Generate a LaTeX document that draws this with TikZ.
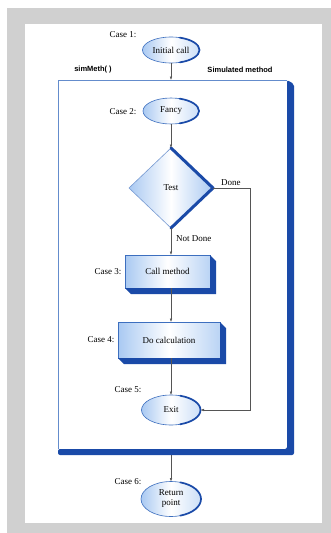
\documentclass[tikz,border=0pt]{standalone}
\usepackage{fontspec}
\setmainfont{Liberation Serif}
\newfontfamily\labsans{Liberation Sans}
\usetikzlibrary{shapes.geometric,arrows.meta}
\definecolor{dkblue}{HTML}{1A4AA8}
\definecolor{edgeblue}{HTML}{3D6FBF}
\definecolor{lblue}{HTML}{A9C9F2}
\definecolor{frgray}{HTML}{D0D0D0}
\definecolor{conngray}{HTML}{555555}
\newcommand\ellrim[3]{%
  \draw[dkblue,line width=1.7pt,line cap=round] (#1.east) arc[start angle=0,end angle=72,x radius=#2pt,y radius=#3pt];
  \draw[dkblue,line width=1.7pt,line cap=round] (#1.east) arc[start angle=0,end angle=-72,x radius=#2pt,y radius=#3pt];}
\newcommand\boxshadow[1]{%
  \fill[dkblue] (#1.north east) -- ([shift={(6,6)}]#1.north east) -- ([shift={(6,6)}]#1.south east)
    -- ([shift={(6,6)}]#1.south west) -- (#1.south west) -- (#1.south east) -- cycle;}
\begin{document}
\begin{tikzpicture}[x=1pt,y=-1pt,
  ell/.style={ellipse, draw=edgeblue, line width=0.6pt, outer sep=0pt, inner sep=1pt,
    left color=lblue, right color=lblue!60, middle color=white, font=\fontsize{9}{10}\selectfont},
  boxn/.style={rectangle, draw=edgeblue, line width=0.5pt, outer sep=0pt, inner sep=1pt,
    left color=lblue, right color=lblue!80, middle color=white, font=\fontsize{9}{10}\selectfont},
  lab/.style={font=\fontsize{9}{10}\selectfont, inner sep=0pt},
  hdr/.style={font=\labsans\bfseries\fontsize{7.5}{9}\selectfont, inner sep=0pt},
  conn/.style={draw=conngray, line width=0.5pt, -{Latex[length=3.5pt,width=2.6pt]}}
]
\useasboundingbox (0,0) rectangle (331,533);
\fill[frgray] (7,8) rectangle (331,533);
\fill[white] (25,24) rectangle (322,523);

% big method box
\fill[dkblue, rounded corners=2pt] (287,80) -- (294,84) -- (294,455) -- (58,455) -- (58,449) -- (287,449) -- cycle;
\draw[edgeblue!80, line width=0.6pt] (58,449) -- (58,80) -- (287,80);
\coordinate (boxtop) at (171,80);
\coordinate (boxbot) at (171,455);

% headers
\node[hdr] (sm) at (93,70) {simMeth( )};
\node[hdr] (simm) at (240,70) {Simulated method};

% nodes
\node[ell, minimum width=57pt, minimum height=26pt] (init) at (171,50) {Initial call};
\ellrim{init}{28.5}{13}
\node[ell, minimum width=56pt, minimum height=26pt] (fancy) at (171,111) {Fancy};
\ellrim{fancy}{28}{13}
\node[diamond, draw=edgeblue!70, line width=0.6pt, minimum width=84pt, minimum height=80pt,
  inner sep=0pt, outer sep=0pt, left color=lblue, right color=lblue, middle color=white,
  font=\fontsize{9}{10}\selectfont] (test) at (171,188) {Test};
\draw[dkblue, line width=3pt, line cap=round, line join=round] (test.north) -- (test.east) -- (test.south);
\node[boxn, minimum width=85pt, minimum height=33pt] (call) at (167.5,271.5) {Call method};
\boxshadow{call}
\node[boxn, minimum width=102pt, minimum height=36pt] (calc) at (169,340) {Do calculation};
\boxshadow{calc}
\node[ell, minimum width=59pt, minimum height=30pt] (exit) at (171,410) {Exit};
\ellrim{exit}{29.5}{15}
\node[ell, minimum width=60pt, minimum height=35pt, align=center] (ret) at (171,499) {Return\\point};
\ellrim{ret}{30}{17.5}

% case labels
\node[lab] (c1) at (123,35) {Case 1:};
\node[lab] (c2) at (123,112) {Case 2:};
\node[lab] (c3) at (108,272) {Case 3:};
\node[lab] (c4) at (101,340) {Case 4:};
\node[lab] (c5) at (128,390) {Case 5:};
\node[lab] (c6) at (128,482) {Case 6:};
\node[lab, anchor=west] (done) at (221,183) {Done};
\node[lab, anchor=west] (nd) at (176,239) {Not Done};

% connectors
\draw[conn] (init.south) -- (boxtop);
\draw[conn] (fancy.south) -- (test.north);
\draw[conn] (test.south) -- (test.south |- call.north);
\draw[conn] (call.south -| test.south) -- (calc.north -| test.south);
\draw[conn] (calc.south -| exit.north) -- (exit.north);
\coordinate (dr) at (250,188);
\draw[conn] (test.east) -- (dr) |- (exit.east);
\draw[conn] (boxbot) -- (ret.north);
\end{tikzpicture}
\end{document}
